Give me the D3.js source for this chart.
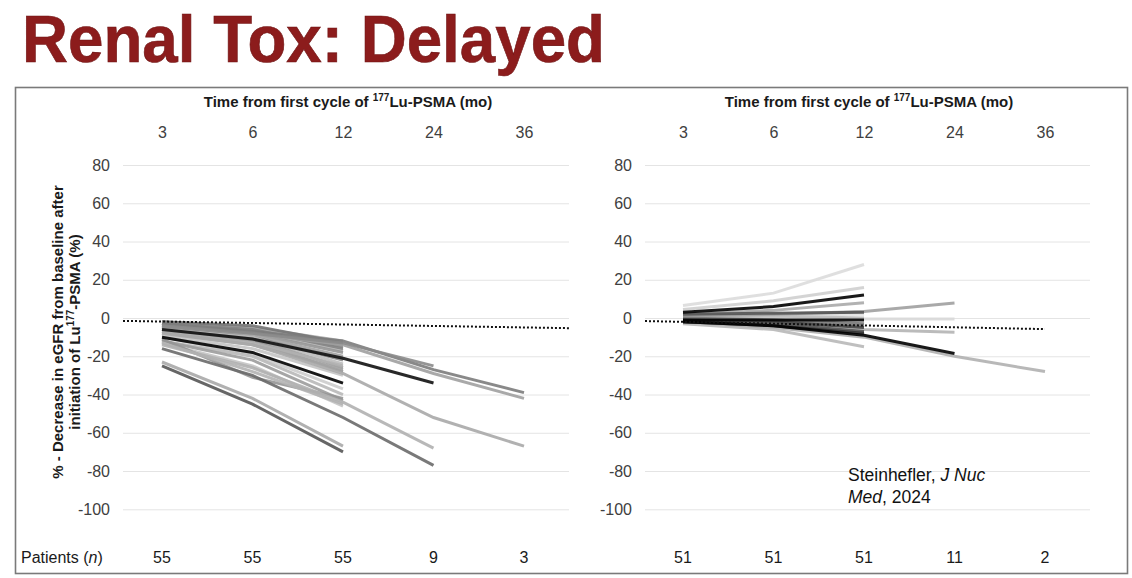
<!DOCTYPE html>
<html><head><meta charset="utf-8">
<script src="https://cdn.jsdelivr.net/npm/d3@7"></script>
<style>
body{margin:0;background:#fff;}
svg{display:block;font-family:"Liberation Sans",Arial,sans-serif;}
</style></head><body>
<svg id="chart" width="1132" height="578"></svg>
<script>
// data
const months = ['3', '6', '12', '24', '36'];
const yTicks = [80, 60, 40, 20, 0, -20, -40, -60, -80, -100];
const leftPatients = [55, 55, 55, 9, 3];
const rightPatients = [51, 51, 51, 11, 2];
// dotted reference line, value at its start and its end
const leftRef = [-1.5, -5.3];
const rightRef = [-1.6, -5.8];

// one row per patient, % change at 3, 6, 12, 24, 36 mo
const leftValues = [
  [-2, -5, -12], [-3, -6, -14], [-3, -7, -15], [-4, -7, -17], [-4, -8, -18],
  [-5, -9, -20], [-5, -10, -22], [-6, -10, -24], [-6, -11, -26], [-7, -12, -28],
  [-7, -13, -25], [-8, -14, -27], [-2, -4, -13], [-3, -6, -16], [-9, -16, -30],
  [-10, -19, -37], [-12, -20, -40], [-12, -22, -43], [-13, -25, -46], [-11, -31, -42],
  [-13, -28, -45], [-23, -42, -67], [-14, -26, -44, -68], [-8, -14, -29, -52, -67],
  [-4, -8, -14, -29, -42], [-3, -7, -12, -27, -39], [-4, -8, -13, -25],
  [-16, -30, -52, -77], [-25, -45, -70], [-6, -11, -21, -34], [-10, -18, -34]
];
const leftShades = [
  '#a8a8a8', '#9a9a9a', '#8c8c8c', '#b5b5b5', '#959595',
  '#a2a2a2', '#888888', '#bcbcbc', '#a0a0a0', '#949494',
  '#b0b0b0', '#a4a4a4', '#767676', '#848484', '#c4c4c4',
  '#cccccc', '#b8b8b8', '#9c9c9c', '#c4c4c4', '#959595',
  '#b2b2b2', '#a8a8a8', '#b0b0b0', '#a8a8a8',
  '#a0a0a0', '#7c7c7c', '#8a8a8a',
  '#6a6a6a', '#555555', '#111111', '#000000'
];

const rightValues = [
  [6.5, 13, 28], [4.5, 9, 16], [1, 1.5, 2], [0, 0, -0.5, -0.5], [-3, -6, -15],
  [-2, -5, -10, -20, -28], [-1, -3, -6, -7.5], [2, 4, 8], [0, 1, 0], [1, 2, 3.4, 7.9],
  [-2, -3, -4], [0, -1, -3], [2, 2.5, 3], [-1, -2, -5], [-2, -3, -7],
  [-2, -4, -8], [-1, -1, -1], [3, 6, 12], [-2, -4, -9, -18.5]
];
const rightShades = [
  '#dcdcdc', '#cfcfcf', '#e0e0e0', '#d8d8d8', '#b8b8b8',
  '#b0b0b0', '#b4b4b4', '#aaaaaa', '#bbbbbb', '#a0a0a0',
  '#888888', '#777777', '#555555', '#444444', '#555555',
  '#333333', '#000000', '#000000', '#000000'
];

const svg = d3.select('#chart');
const y = d3.scaleLinear().domain([-100, 80]).range([509.3, 165]);
const FONT = '"Liberation Sans",Arial,sans-serif';

svg.append('text').attr('x', 22).attr('y', 62)
  .attr('font-size', 66).attr('font-weight', 'bold').attr('fill', '#8c1c1c')
  .attr('stroke', '#6e1212').attr('stroke-width', 0.6)
  .attr('textLength', 583).attr('lengthAdjust', 'spacingAndGlyphs')
  .text('Renal Tox: Delayed');

svg.append('rect').attr('x', 15.5).attr('y', 87.5).attr('width', 1112).attr('height', 486)
  .attr('fill', 'none').attr('stroke', '#7a7a7a').attr('stroke-width', 1.6);

function panel(p) {
  const g = svg.append('g');
  const x = d3.scalePoint().domain(months).range([p.cx0, p.cx0 + 4 * 90.5]);

  // plain hyphen minus, as on the slide
  const ax = g.append('g').attr('transform', `translate(${p.gx0},0)`)
    .call(d3.axisLeft(y).tickValues(yTicks).tickFormat(d => String(d))
      .tickSize(-(p.gx1 - p.gx0)).tickPadding(13));
  ax.select('.domain').remove();
  ax.selectAll('line').attr('stroke', '#e4e4e4');
  ax.selectAll('text').attr('font-size', 16).attr('fill', '#404040').attr('font-family', FONT);

  const top = g.append('g').attr('transform', 'translate(0,127)')
    .call(d3.axisTop(x).tickSize(0).tickPadding(0));
  top.select('.domain').remove();
  top.selectAll('text').attr('font-size', 16).attr('fill', '#404040').attr('dy', '0.71em')
    .attr('font-family', FONT);

  const t = g.append('text').attr('x', (p.cx0 + p.cx0 + 4 * 90.5) / 2 + 5).attr('y', 107)
    .attr('text-anchor', 'middle').attr('font-size', 15).attr('font-weight', 'bold').attr('fill', '#1a1a1a');
  t.append('tspan').text('Time from first cycle of ');
  t.append('tspan').attr('font-size', 10).attr('dy', -6).text('177');
  t.append('tspan').attr('dy', 6).text('Lu-PSMA (mo)');

  const line = d3.line().defined(d => d != null)
    .x((d, i) => x(months[i])).y(d => y(d));
  g.append('g').selectAll('path').data(p.values).join('path')
    .attr('d', line).attr('fill', 'none')
    .attr('stroke', (d, i) => p.shades[i]).attr('stroke-width', 3)
    .attr('stroke-opacity', 0.9);

  const xr = d3.scaleLinear().domain([0, 1]).range([p.gx0, p.refEnd]);
  g.append('path')
    .attr('d', d3.line().x((d, i) => xr(i)).y(d => y(d))(p.ref))
    .attr('fill', 'none').attr('stroke', '#111').attr('stroke-width', 2)
    .attr('stroke-dasharray', '2,2');

  g.append('g').selectAll('text').data(p.patients).join('text')
    .attr('x', (d, i) => x(months[i])).attr('y', 563)
    .attr('text-anchor', 'middle').attr('font-size', 16).attr('fill', '#1a1a1a')
    .text(d => d);
}

panel({ gx0: 123, gx1: 569, cx0: 162, refEnd: 569,
  values: leftValues, shades: leftShades, ref: leftRef, patients: leftPatients });
panel({ gx0: 645, gx1: 1090, cx0: 683, refEnd: 683 + 4 * 90.5,
  values: rightValues, shades: rightShades, ref: rightRef, patients: rightPatients });

// y axis title
const yl = svg.append('g').attr('transform', 'translate(66,332) rotate(-90)')
  .attr('font-size', 15).attr('font-weight', 'bold').attr('fill', '#1a1a1a');
yl.append('text').attr('text-anchor', 'middle').attr('y', -3)
  .text('% - Decrease in eGFR from baseline after');
const yl2 = yl.append('text').attr('text-anchor', 'middle').attr('y', 14);
yl2.append('tspan').text('initiation of Lu');
yl2.append('tspan').attr('font-size', 10).attr('dy', -6).text('177');
yl2.append('tspan').attr('dy', 6).text('-PSMA (%)');

// patients row label
const pl = svg.append('text').attr('x', 21).attr('y', 563).attr('font-size', 16).attr('fill', '#1a1a1a');
pl.append('tspan').text('Patients (');
pl.append('tspan').attr('font-style', 'italic').text('n');
pl.append('tspan').text(')');

// citation
const cite = svg.append('g').attr('font-size', 17.5).attr('fill', '#111');
const c1 = cite.append('text').attr('x', 848).attr('y', 481);
c1.append('tspan').text('Steinhefler, ');
c1.append('tspan').attr('font-style', 'italic').text('J Nuc');
const c2 = cite.append('text').attr('x', 848).attr('y', 503);
c2.append('tspan').attr('font-style', 'italic').text('Med');
c2.append('tspan').text(', 2024');
</script>
</body></html>
